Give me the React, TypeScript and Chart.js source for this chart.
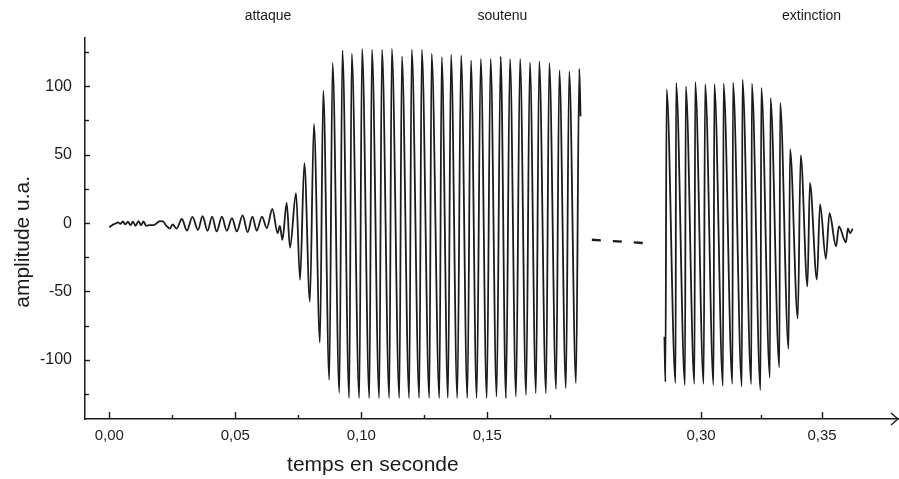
import { useEffect, useRef } from "react";
import { Chart, registerables } from "chart.js";

Chart.register(...registerables);

// ---- data (time in seconds, amplitude in arbitrary units) ----
// attaque + soutenu
const attackTimes = [
  0.0, 0.0011, 0.0023, 0.0035, 0.0044, 0.0054, 0.0064, 0.0074, 0.0084, 0.0094,
  0.0104, 0.0116, 0.0126, 0.0136, 0.0146, 0.0162, 0.0177, 0.0189, 0.0201, 0.0213,
  0.0227, 0.0241, 0.0251, 0.0267, 0.0288, 0.0308, 0.033, 0.0352, 0.037, 0.039,
  0.0408, 0.0426, 0.0447, 0.0466, 0.0487, 0.0506, 0.0529, 0.0549, 0.0568, 0.0585,
  0.0606, 0.0625, 0.0647, 0.0668, 0.0677, 0.0687, 0.0704, 0.0717, 0.0741, 0.0757,
  0.0774, 0.0796, 0.0812, 0.0836, 0.0849, 0.0873, 0.0886, 0.0913, 0.0925, 0.0952,
  0.0962, 0.0992, 0.1003, 0.1032, 0.1042, 0.1071, 0.1082, 0.1111, 0.1121, 0.1151,
  0.1161, 0.119, 0.12, 0.123, 0.124, 0.127, 0.1279, 0.131, 0.1319, 0.1344,
  0.1356, 0.1381, 0.1396, 0.1421, 0.1435, 0.1458, 0.1474, 0.1498, 0.1513, 0.1537,
  0.1553, 0.1574, 0.159, 0.1614, 0.163, 0.1654, 0.1669, 0.1693, 0.1706, 0.1733,
  0.1746, 0.1773, 0.1786, 0.1812, 0.1825, 0.1852, 0.1865, 0.187,
];
const attackValues = [
  -3, -1.5, -0.5, 0.5, -0.5, 1.2, -1, 1, -1.5, 1,
  -2, 1.5, -1.5, 1.2, -2, -1.5, -1.5, 0, 1.5, 1.2,
  -2, -4, -1, -4, 3, -5.5, 4.5, -5, 5, -5.6,
  4.8, -6.1, 4.8, -5.6, 3.7, -6.1, 5.6, -6.6, 4.8, -5.6,
  4.8, -3.7, 10.3, -7.3, -2, -12.2, 14.8, -18, 21.9, -41.5,
  43.9, -57.3, 72.4, -87.3, 96.8, -114.6, 117, -124, 126.3, -128,
  123.8, -128, 127.3, -128, 126.8, -128, 126.8, -128, 127.3, -128,
  121.9, -128, 126.8, -128, 126.8, -128, 123.8, -128, 121.4, -128,
  123, -128, 122.5, -128, 119, -128, 120, -128, 120, -126.8,
  121.9, -128, 120, -126.8, 120, -125.6, 117.5, -124.4, 118.2, -124.4,
  117, -121.4, 111.6, -120.7, 110.9, -117, 112.7, 78,
];

// dashed connection across the axis break
const breakTimes = [0.1915, 0.2125];
const breakValues = [-12.2, -14.6];

// fin du soutenu + extinction
const decayTimes = [
  0.2849, 0.2853, 0.2858, 0.2895, 0.2897, 0.2934, 0.2937, 0.2973, 0.2976, 0.3011,
  0.3017, 0.3052, 0.3055, 0.3091, 0.3093, 0.313, 0.3132, 0.3169, 0.3171, 0.3208,
  0.321, 0.3246, 0.3249, 0.3285, 0.3287, 0.3324, 0.3327, 0.3362, 0.3368, 0.34,
  0.3412, 0.344, 0.345, 0.3479, 0.3492, 0.3516, 0.3531, 0.3558, 0.357, 0.3599,
  0.3607, 0.3616, 0.3627,
];
const decayValues = [
  -83, -116, 97.5, -117, 102.4, -118.5, 99.9, -117.5, 103.1, -117.5,
  101.5, -118.3, 101.5, -119, 101.9, -117.5, 102.6, -119.3, 104.8, -117.7,
  101.9, -122, 98.8, -113, 91.4, -105.5, 87.8, -92, 54.1, -69.7,
  49.5, -46.3, 29.3, -41.2, 13.8, -26.1, 7.2, -17, -2.5, -14.1,
  -3.8, -7.5, -4,
];

// ---- ticks & labels ----
const xMajorTicks = [0, 0.05, 0.1, 0.15, 0.3, 0.35];
const xMajorLabels = ["0,00", "0,05", "0,10", "0,15", "0,30", "0,35"];
const xMinorTicks = [0.025, 0.075, 0.125, 0.175, 0.325];
const yMajorTicks = [-100, -50, 0, 50, 100];
const yMinorTicks = [-125, -75, -25, 25, 75, 125];
const phaseLabels = ["attaque", "soutenu", "extinction"];
const phaseTimes = [0.063, 0.156, 0.3457];
const xTitle = "temps en seconde";
const yTitle = "amplitude u.a.";

// ---- broken time axis: 0.25 s .. 0.30 s region is cut out ----
const BREAK_FROM = 0.25;
const RESUME_AT = 0.3;
const RESUME_POS = 0.2348;
const SECOND_SCALE = 0.9603;
const toAxis = (t: number) =>
  t < BREAK_FROM ? t : RESUME_POS + (t - RESUME_AT) * SECOND_SCALE;

const X_MIN = -0.00964;
const X_MAX = 0.31298;
const Y_MIN = -143.2;
const Y_MAX = 135.3;

const FONT = '"Liberation Sans", Arial, Helvetica, sans-serif';
const INK = "#1b1b1b";

const xTickList = [
  ...xMajorTicks.map((t, i) => ({ t, label: xMajorLabels[i], major: true })),
  ...xMinorTicks.map((t) => ({ t, label: "", major: false })),
].sort((a, b) => a.t - b.t);

const yTickList = [
  ...yMajorTicks.map((v) => ({ v, label: String(v), major: true })),
  ...yMinorTicks.map((v) => ({ v, label: "", major: false })),
].sort((a, b) => a.v - b.v);

const toPoints = (ts: number[], vs: number[]) =>
  ts.map((t, i) => ({ x: toAxis(t), y: vs[i] }));

const decorPlugin = {
  id: "decor",
  afterDraw(chart: any) {
    const { ctx, chartArea, scales } = chart;
    const xs = scales.x;
    const ys = scales.y;
    ctx.save();
    ctx.strokeStyle = INK;
    ctx.fillStyle = INK;
    ctx.lineWidth = 1.4;
    // inward x ticks
    for (const k of xTickList) {
      const px = Math.round(xs.getPixelForValue(toAxis(k.t))) + 0.5;
      ctx.beginPath();
      ctx.moveTo(px, chartArea.bottom);
      ctx.lineTo(px, chartArea.bottom - (k.major ? 7 : 4));
      ctx.stroke();
    }
    // inward y ticks
    for (const k of yTickList) {
      const py = Math.round(ys.getPixelForValue(k.v)) + 0.5;
      ctx.beginPath();
      ctx.moveTo(chartArea.left, py);
      ctx.lineTo(chartArea.left + (k.major ? 5 : 4), py);
      ctx.stroke();
    }
    // arrow at the end of the time axis
    ctx.beginPath();
    ctx.moveTo(chartArea.right - 7, chartArea.bottom - 6);
    ctx.lineTo(chartArea.right, chartArea.bottom);
    ctx.lineTo(chartArea.right - 7, chartArea.bottom + 6);
    ctx.stroke();
    // phase labels
    ctx.font = `14px ${FONT}`;
    ctx.textAlign = "center";
    ctx.textBaseline = "middle";
    phaseLabels.forEach((s, i) => {
      ctx.fillText(s, xs.getPixelForValue(toAxis(phaseTimes[i])), 16);
    });
    // axis titles
    ctx.font = `21px ${FONT}`;
    ctx.fillText(xTitle, xs.getPixelForValue(toAxis(0.1046)), 465);
    ctx.save();
    ctx.translate(23, ys.getPixelForValue(-13.7));
    ctx.rotate(-Math.PI / 2);
    ctx.fillText(yTitle, 0, 0);
    ctx.restore();
    ctx.restore();
  },
};

export default function App() {
  const ref = useRef<HTMLCanvasElement | null>(null);
  useEffect(() => {
    if (!ref.current) return;
    const lineStyle = {
      borderColor: INK,
      borderWidth: 1.8,
      pointRadius: 0,
      cubicInterpolationMode: "monotone" as const,
      fill: false,
    };
    const chart = new Chart(ref.current, {
      type: "line",
      data: {
        datasets: [
          { ...lineStyle, data: toPoints(attackTimes, attackValues) },
          {
            ...lineStyle,
            cubicInterpolationMode: "default" as const,
            tension: 0,
            borderWidth: 2.4,
            borderDash: [9, 12],
            data: toPoints(breakTimes, breakValues),
          },
          { ...lineStyle, data: toPoints(decayTimes, decayValues) },
        ],
      },
      options: {
        animation: false,
        responsive: false,
        events: [],
        layout: { padding: { top: 38, right: 1, left: 0, bottom: 0 } },
        plugins: { legend: { display: false }, tooltip: { enabled: false } },
        scales: {
          x: {
            type: "linear",
            min: X_MIN,
            max: X_MAX,
            afterBuildTicks: (scale: any) => {
              scale.ticks = xTickList.map((k) => ({ value: toAxis(k.t) }));
            },
            afterFit: (scale: any) => {
              scale.height = 60;
            },
            grid: { display: false, drawTicks: false },
            border: { display: true, color: INK, width: 1.5 },
            ticks: {
              autoSkip: false,
              maxRotation: 0,
              padding: 8,
              color: INK,
              font: { family: FONT, size: 15 },
              callback: (_v: any, i: number) => xTickList[i]?.label ?? "",
            },
          },
          y: {
            type: "linear",
            min: Y_MIN,
            max: Y_MAX,
            afterBuildTicks: (scale: any) => {
              scale.ticks = yTickList.map((k) => ({ value: k.v }));
            },
            afterFit: (scale: any) => {
              scale.width = 85;
            },
            grid: { display: false, drawTicks: false },
            border: { display: true, color: INK, width: 1.5 },
            ticks: {
              autoSkip: false,
              padding: 13,
              color: INK,
              font: { family: FONT, size: 16 },
              callback: (_v: any, i: number) => yTickList[i]?.label ?? "",
            },
          },
        },
      },
      plugins: [decorPlugin],
    });
    return () => chart.destroy();
  }, []);
  return (
    <div style={{ position: "absolute", left: 0, top: 0, width: 899, height: 479, background: "#fff" }}>
      <canvas ref={ref} width={899} height={479} style={{ display: "block" }} />
    </div>
  );
}
